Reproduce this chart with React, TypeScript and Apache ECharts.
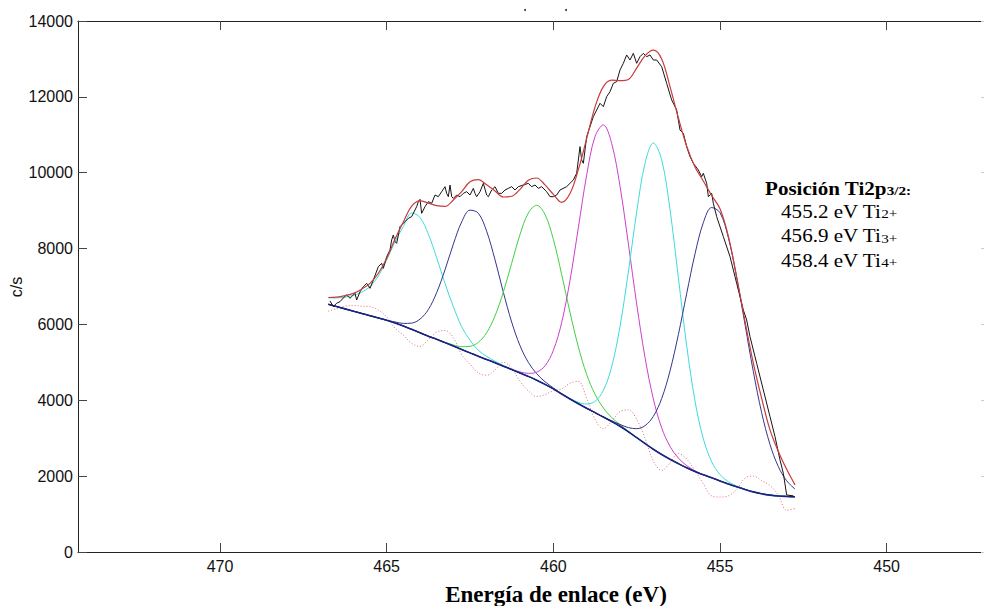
import React, { useEffect, useRef } from "react";
import * as echarts from "echarts";

// ---- Data ----
const xTicks = [470, 465, 460, 455, 450];

// common energy grid for fitted curves (eV)
const energy = [466.75, 466.5, 466.25, 466, 465.75, 465.5, 465.25, 465, 464.75, 464.5, 464.25, 464, 463.75, 463.5, 463.25, 463, 462.75, 462.5, 462.25, 462, 461.75, 461.5, 461.25, 461, 460.75, 460.5, 460.25, 460, 459.75, 459.5, 459.25, 459, 458.75, 458.5, 458.25, 458, 457.75, 457.5, 457.25, 457, 456.75, 456.5, 456.25, 456, 455.75, 455.5, 455.25, 455, 454.75, 454.5, 454.25, 454, 453.75, 453.5, 453.25, 453, 452.75];

// Shirley-type background (c/s)
const background = [6530, 6470, 6410, 6350, 6290, 6230, 6170, 6110, 6040, 5960, 5870, 5780, 5690, 5610, 5520, 5430, 5340, 5250, 5160, 5075, 4990, 4900, 4810, 4720, 4630, 4530, 4420, 4300, 4165, 4035, 3910, 3790, 3675, 3560, 3440, 3315, 3170, 3015, 2860, 2710, 2570, 2445, 2330, 2220, 2120, 2035, 1955, 1875, 1795, 1720, 1650, 1585, 1535, 1500, 1478, 1465, 1455];

// total fitted envelope
const envelope = [6710, 6720, 6760, 6820, 6930, 7084, 7350, 7740, 8250, 8700, 9120, 9260, 9200, 9130, 9110, 9280, 9500, 9760, 9820, 9680, 9520, 9360, 9380, 9560, 9800, 9860, 9680, 9430, 9220, 9450, 10080, 10900, 11730, 12270, 12440, 12430, 12460, 12760, 13080, 13230, 13000, 12270, 11450, 10700, 10150, 9780, 9400, 9050, 8330, 7250, 6080, 4980, 4050, 3220, 2650, 2180, 1770];

// residual (dotted), plotted around the background
const residual = [6350, 6420, 6480, 6500, 6480, 6470, 6380, 6200, 5900, 5720, 5500, 5420, 5600, 5800, 5840, 5650, 5200, 4950, 4720, 4660, 4800, 5000, 4850, 4500, 4250, 4100, 4150, 4250, 4300, 4450, 4500, 4050, 3500, 3250, 3450, 3700, 3750, 3500, 3000, 2400, 2150, 2350, 2600, 2450, 2150, 1800, 1480, 1450, 1480, 1650, 1950, 2000, 1880, 1750, 1500, 1100, 1150];

// component intensities above the background (c/s)
const peak464 = [170, 230, 310, 420, 560, 770, 1110, 1590, 2140, 2620, 3070, 3040, 2690, 2150, 1560, 1040, 600, 330, 160, 80, 40, 20, 10, 0, 0, 0, 0, 0, 0, 0, 0, 0, 0, 0, 0, 0, 0, 0, 0, 0, 0, 0, 0, 0, 0, 0, 0, 0, 0, 0, 0, 0, 0, 0, 0, 0, 0];
const peak462 = [0, 0, 0, 0, 0, 0, 0, 0, 25, 67, 165, 360, 703, 1228, 1919, 2685, 3361, 3763, 3771, 3381, 2715, 1950, 1253, 721, 370, 171, 70, 26, 10, 0, 0, 0, 0, 0, 0, 0, 0, 0, 0, 0, 0, 0, 0, 0, 0, 0, 0, 0, 0, 0, 0, 0, 0, 0, 0, 0, 0];
const peak460 = [0, 0, 0, 0, 0, 0, 0, 0, 0, 0, 0, 0, 0, 0, 10, 29, 74, 173, 368, 707, 1234, 1953, 2802, 3649, 4306, 4611, 4478, 3945, 3151, 2282, 1500, 893, 483, 237, 105, 42, 16, 6, 0, 0, 0, 0, 0, 0, 0, 0, 0, 0, 0, 0, 0, 0, 0, 0, 0, 0, 0];
const peak458 = [0, 0, 0, 0, 0, 0, 0, 0, 0, 0, 0, 0, 0, 0, 0, 0, 0, 0, 0, 0, 0, 0, 8, 28, 80, 210, 488, 1015, 1884, 3127, 4638, 6147, 7278, 7700, 7333, 6332, 4961, 3526, 2273, 1328, 704, 338, 148, 58, 21, 0, 0, 0, 0, 0, 0, 0, 0, 0, 0, 0, 0];
const peak457 = [0, 0, 0, 0, 0, 0, 0, 0, 0, 0, 0, 0, 0, 0, 0, 0, 0, 0, 0, 0, 0, 0, 0, 0, 0, 0, 0, 0, 0, 10, 37, 111, 297, 697, 1443, 2628, 4213, 5945, 7385, 8075, 7771, 6584, 4910, 3223, 1862, 948, 424, 167, 58, 18, 0, 0, 0, 0, 0, 0, 0];
const peak455 = [0, 0, 0, 0, 0, 0, 0, 0, 0, 0, 0, 0, 0, 0, 0, 0, 0, 0, 0, 0, 0, 0, 0, 0, 0, 0, 0, 0, 0, 0, 0, 0, 0, 0, 19, 48, 110, 237, 471, 866, 1475, 2328, 3398, 4591, 5740, 6648, 7126, 7071, 6495, 5523, 4349, 3170, 2137, 1335, 773, 413, 205];

// measured spectrum
const rawEnergy = [466.7, 466.6, 466.5, 466.4, 466.3, 466.2, 466.1, 466.05, 465.95, 465.9, 465.8, 465.7, 465.6, 465.5, 465.4, 465.25, 465.15, 465.1, 465.0, 464.9, 464.85, 464.8, 464.75, 464.7, 464.6, 464.5, 464.35, 464.25, 464.1, 464.05, 464.0, 463.95, 463.85, 463.75, 463.65, 463.55, 463.45, 463.35, 463.25, 463.2, 463.15, 463.1, 463.05, 463.0, 462.9, 462.8, 462.7, 462.6, 462.5, 462.4, 462.35, 462.3, 462.2, 462.1, 462.0, 461.95, 461.85, 461.75, 461.65, 461.55, 461.45, 461.35, 461.25, 461.15, 461.05, 460.9, 460.75, 460.65, 460.55, 460.45, 460.35, 460.2, 460.1, 460.0, 459.9, 459.8, 459.6, 459.4, 459.3, 459.2, 459.15, 459.1, 459.0, 458.8, 458.6, 458.5, 458.4, 458.3, 458.2, 458.1, 458.0, 457.9, 457.8, 457.7, 457.6, 457.5, 457.4, 457.3, 457.2, 457.1, 457.0, 456.9, 456.75, 456.6, 456.45, 456.3, 456.2, 456.1, 456.0, 455.9, 455.8, 455.65, 455.55, 455.5, 455.4, 455.35, 455.25, 455.2, 455.1, 454.9, 454.7, 454.5, 454.4, 454.3, 454.2, 454.1, 453.9, 453.7, 453.5, 453.35, 453.2, 453.1, 453.0, 452.8];
const rawCounts = [6620, 6470, 6560, 6600, 6700, 6776, 6690, 6732, 6820, 6644, 6860, 6996, 7084, 6952, 7171, 7523, 7611, 7479, 7786, 7962, 8226, 8358, 8182, 8138, 8577, 8665, 8797, 8841, 9105, 9237, 9298, 8929, 9105, 9237, 9193, 9412, 9368, 9500, 9632, 9456, 9368, 9676, 9368, 9324, 9412, 9368, 9456, 9500, 9412, 9588, 9456, 9368, 9500, 9720, 9412, 9368, 9544, 9632, 9456, 9456, 9544, 9588, 9632, 9544, 9632, 9676, 9720, 9632, 9676, 9588, 9632, 9500, 9369, 9368, 9412, 9545, 9633, 9808, 9984, 10687, 10336, 10248, 10951, 11478, 11830, 11742, 12005, 12137, 12357, 12401, 12708, 12884, 13104, 12972, 13148, 12884, 13060, 13148, 13060, 13104, 12972, 12972, 12796, 12357, 11918, 11654, 11127, 11039, 10687, 10424, 10248, 10072, 9896, 9984, 9721, 9369, 9457, 9193, 8842, 8315, 7787, 7084, 6733, 6381, 6118, 5678, 4975, 4272, 3569, 3042, 2427, 2075, 1504, 1480];

// annotation
const annoTitle = ["Posición Ti2p", "3/2:"];
const annoLines = [
  ["455.2 eV Ti", "2+"],
  ["456.9 eV Ti", "3+"],
  ["458.4 eV Ti", "4+"],
];

const SANS = '"Liberation Sans", Arial, Helvetica, sans-serif';
const SERIF = '"Liberation Serif", "Times New Roman", Times, serif';

function fitSeries(name: string, values: number[], color: string, width: number, z: number) {
  return {
    type: "line",
    name,
    data: energy.map((e, i) => [e, values[i]]),
    showSymbol: false,
    symbol: "none",
    smooth: 0.35,
    silent: true,
    z,
    lineStyle: { color, width },
  };
}

function component(peak: number[]) {
  return background.map((b, i) => b + peak[i]);
}

export default function App() {
  const ref = useRef<HTMLDivElement>(null);

  useEffect(() => {
    if (!ref.current) return;
    const chart = echarts.init(ref.current, null, { renderer: "svg" });

    const axisLineStyle = { color: "#222", width: 1 };
    const tickStyle = { color: "#444", width: 1 };
    const xMin = 446.9;
    const xMax = 474.26;

    const annoGraphics: any[] = annoLines.map((ln, k) => ({
      type: "text",
      x: 839,
      y: 210 + k * 24.5,
      scaleX: 1.17,
      silent: true,
      style: {
        text: `{a|${ln[0]}}{b|${ln[1]}}`,
        rich: {
          a: { fontFamily: SERIF, fontSize: 18, fill: "#000", verticalAlign: "bottom", lineHeight: 22 },
          b: { fontFamily: SERIF, fontSize: 13, fill: "#000", verticalAlign: "bottom", lineHeight: 22, padding: [0, 0, 1, 0] },
        },
        align: "center",
        verticalAlign: "middle",
        textAlign: "center",
        textVerticalAlign: "middle",
      },
    }));

    const option: any = {
      animation: false,
      backgroundColor: "#ffffff",
      grid: { left: 78, right: 0, top: 21, bottom: 54, containLabel: false },
      xAxis: [
        {
          type: "value",
          position: "bottom",
          min: xMin,
          max: xMax,
          inverse: true,
          axisLine: { show: true, onZero: false, lineStyle: axisLineStyle },
          axisTick: { show: true, inside: true, length: 9, customValues: xTicks, lineStyle: tickStyle },
          axisLabel: {
            show: true,
            customValues: xTicks,
            margin: 6,
            color: "#111",
            fontSize: 16,
            fontFamily: SANS,
            formatter: (v: number) => String(v),
          },
          splitLine: { show: false },
        },
        {
          type: "value",
          position: "top",
          min: xMin,
          max: xMax,
          inverse: true,
          axisLine: { show: true, onZero: false, lineStyle: axisLineStyle },
          axisTick: { show: true, inside: true, length: 9, customValues: xTicks, lineStyle: tickStyle },
          axisLabel: { show: false },
          splitLine: { show: false },
        },
      ],
      yAxis: [
        {
          type: "value",
          position: "left",
          min: 0,
          max: 14000,
          interval: 2000,
          axisLine: { show: true, onZero: false, lineStyle: axisLineStyle },
          axisTick: { show: true, inside: true, length: 9, lineStyle: tickStyle },
          axisLabel: {
            show: true,
            margin: 5,
            color: "#111",
            fontSize: 16,
            fontFamily: SANS,
            formatter: (v: number) => String(v),
          },
          splitLine: { show: false },
        },
        {
          type: "value",
          position: "right",
          min: 0,
          max: 14000,
          interval: 2000,
          axisLine: { show: true, onZero: false, lineStyle: { color: "#bbb", width: 1 } },
          axisTick: { show: true, inside: true, length: 9, lineStyle: { color: "#ccc", width: 1 } },
          axisLabel: { show: false },
          splitLine: { show: false },
        },
      ],
      series: [
        {
          type: "line",
          name: "residual",
          data: energy.map((e, i) => [e, residual[i]]),
          showSymbol: false,
          symbol: "none",
          smooth: 0.35,
          silent: true,
          z: 1,
          lineStyle: { color: "#e07070", width: 1, type: [1, 2] },
        },
        fitSeries("464.2 eV", component(peak464), "#3fdada", 1, 2),
        fitSeries("462.4 eV", component(peak462), "#35358f", 1, 2),
        fitSeries("460.5 eV", component(peak460), "#3fd13f", 1, 2),
        fitSeries("458.5 eV", component(peak458), "#cc3fcc", 1, 2),
        fitSeries("457.0 eV", component(peak457), "#3fdada", 1, 2),
        fitSeries("455.2 eV", component(peak455), "#35358f", 1, 2),
        fitSeries("background", background, "#1a237e", 1.6, 3),
        {
          type: "line",
          name: "raw",
          data: rawEnergy.map((e, i) => [e, rawCounts[i]]),
          showSymbol: false,
          symbol: "none",
          silent: true,
          z: 4,
          lineStyle: { color: "#151515", width: 1 },
        },
        fitSeries("envelope", envelope, "#c83c3c", 1.2, 5),
      ],
      graphic: [
        {
          type: "text",
          x: 16.5,
          y: 287,
          rotation: Math.PI / 2,
          silent: true,
          style: {
            text: "c/s",
            font: `16px ${SANS}`,
            fill: "#111",
            align: "center",
            verticalAlign: "middle",
            textAlign: "center",
            textVerticalAlign: "middle",
          },
        },
        {
          type: "text",
          x: 556,
          y: 594,
          silent: true,
          style: {
            text: "Energía de enlace (eV)",
            font: `bold 23px ${SERIF}`,
            fill: "#000",
            align: "center",
            verticalAlign: "middle",
            textAlign: "center",
            textVerticalAlign: "middle",
          },
        },
        {
          type: "text",
          x: 838,
          y: 187,
          scaleX: 1.17,
          silent: true,
          style: {
            text: `{a|${annoTitle[0]}}{b|${annoTitle[1]}}`,
            rich: {
              a: { fontFamily: SERIF, fontSize: 18, fontWeight: "bold", fill: "#000", verticalAlign: "bottom", lineHeight: 22 },
              b: { fontFamily: SERIF, fontSize: 13, fontWeight: "bold", fill: "#000", verticalAlign: "bottom", lineHeight: 22, padding: [0, 0, 1, 0] },
            },
            align: "center",
            verticalAlign: "middle",
            textAlign: "center",
            textVerticalAlign: "middle",
          },
        },
        ...annoGraphics,
        { type: "circle", shape: { cx: 525, cy: 10, r: 1 }, style: { fill: "#333" }, silent: true },
        { type: "circle", shape: { cx: 566, cy: 10, r: 1 }, style: { fill: "#333" }, silent: true },
      ],
    };

    chart.setOption(option);
    return () => {
      chart.dispose();
    };
  }, []);

  return (
    <div style={{ position: "fixed", left: 0, top: 0, width: 984, height: 606, overflow: "hidden", background: "#fff" }}>
      <div ref={ref} style={{ width: 990, height: 606 }} />
    </div>
  );
}
